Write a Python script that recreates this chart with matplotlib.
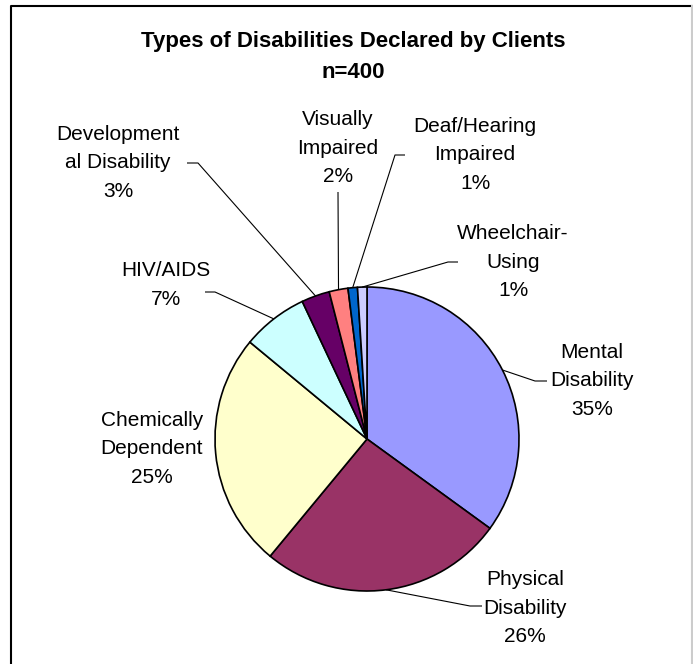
import matplotlib
matplotlib.use("Agg")
import matplotlib.pyplot as plt
import numpy as np

# Client counts by declared disability (n = 400)
categories = ["Mental\nDisability", "Physical\nDisability", "Chemically\nDependent",
              "HIV/AIDS", "Development\nal Disability", "Visually\nImpaired",
              "Deaf/Hearing\nImpaired", "Wheelchair-\nUsing"]
counts = [140, 104, 100, 28, 12, 8, 4, 4]
percent_labels = ["35%", "26%", "25%", "7%", "3%", "2%", "1%", "1%"]
colors = ["#9999FF", "#993366", "#FFFFCC", "#CCFFFF", "#660066",
          "#FF8080", "#0066CC", "#CCCCFF"]

W, H = 693, 664
fig = plt.figure(figsize=(W / 100, H / 100), dpi=100)
ax = fig.add_axes([0, 0, 1, 1])
ax.set_xlim(0, W)
ax.set_ylim(0, H)
ax.axis("off")

def py(y):
    # convert a top-down pixel row into axes y
    return H - y

cx, cy, r = 367, 439, 152
wedges, _ = ax.pie(counts, colors=colors, startangle=90, counterclock=False,
                   radius=r, center=(cx, py(cy)),
                   wedgeprops=dict(edgecolor="black", linewidth=1.2))
ax.set_xlim(0, W)
ax.set_ylim(0, H)
ax.set_aspect("equal")

font = "Liberation Sans"
ax.text(353, py(41), "Types of Disabilities Declared by Clients", ha="center", va="center",
        fontsize=16, fontweight="bold", family=font)
ax.text(353, py(73), "n=400", ha="center", va="center",
        fontsize=16, fontweight="bold", family=font)

# label centre positions (pixel rows) and leader-line anchor points
label_pos = [(592, 381), (525, 608), (152, 449), (166, 285),
             (118, 163), (338, 148), (475, 155), (513, 262)]
anchors = [(547, 381), (482, 606), None, (205, 292),
           (187, 163), (338, 192), (405, 155), (458, 262)]
elbows = [(535, 381), (470, 606), None, (215, 292),
          (198, 163), (338, 192), (395, 155), (448, 262)]

for i, (lab, pct) in enumerate(zip(categories, percent_labels)):
    x, y = label_pos[i]
    ax.text(x, py(y), lab + "\n" + pct, ha="center", va="center",
            fontsize=15, family=font, linespacing=1.65)
    if anchors[i] is not None:
        w = wedges[i]
        mid = np.deg2rad((w.theta1 + w.theta2) / 2)
        ex, ey = cx + r * np.cos(mid), py(cy) + r * np.sin(mid)
        ax.plot([anchors[i][0], elbows[i][0], ex],
                [py(anchors[i][1]), py(elbows[i][1]), ey],
                color="black", linewidth=0.8, solid_capstyle="butt")

# chart frame
ax.plot([11, 11, W - 1], [0, py(6), py(6)], color="black", linewidth=1.5)
ax.plot([W - 1, W - 1], [py(6), 0], color="#cccccc", linewidth=1.5)

fig.savefig("out.png", dpi=100)
